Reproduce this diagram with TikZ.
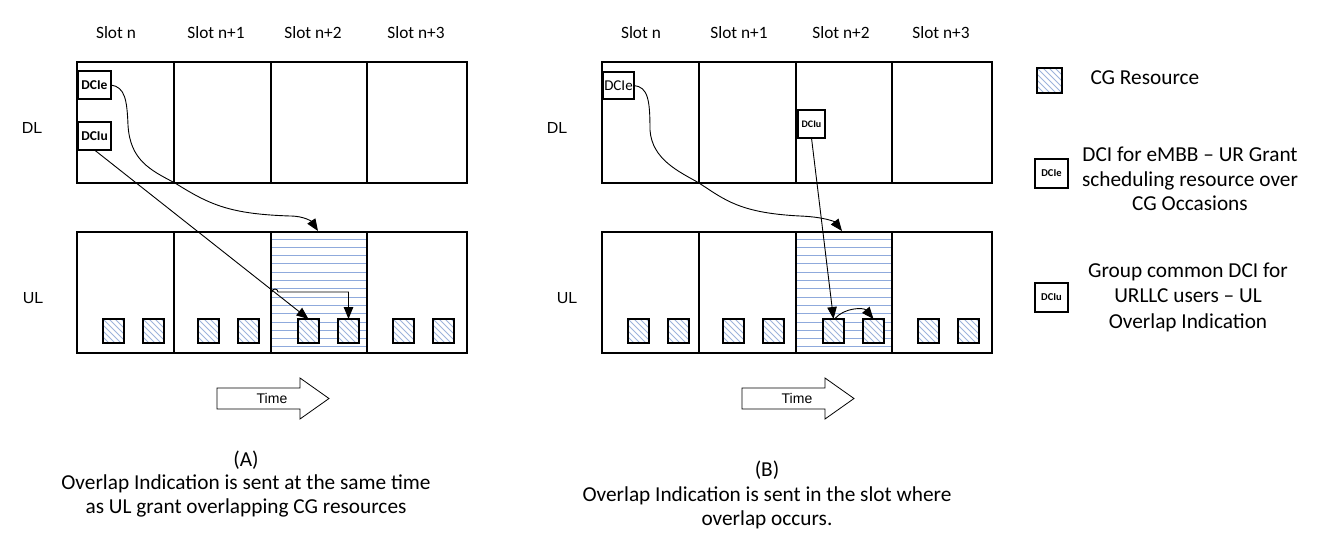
\documentclass[tikz,border=0pt]{standalone}
\usepackage{fontspec}
\setmainfont{Carlito}
\newfontfamily\arialfont{Liberation Sans}
\usetikzlibrary{arrows.meta,calc}
\definecolor{hblue}{HTML}{8FAADC}
\definecolor{cgblue}{HTML}{9DB3DB}
\tikzset{
  slotbox/.style={draw, line width=2.8pt, anchor=north west, minimum height=121pt, inner sep=0pt, outer sep=0pt},
  hatched/.style={path picture={\foreach \k in {0,...,13}{\draw[hblue,line width=0.9pt] ($(path picture bounding box.north west)+(0pt,{-7pt-\k*8.3pt})$) -- ++(100pt,0pt);}}},
  cgbox/.style={draw, line width=2.4pt, anchor=north west, minimum width=21pt, minimum height=24pt, inner sep=0pt, outer sep=0pt, fill=white,
    path picture={\foreach \i in {-30,-24,...,24}{\draw[cgblue, line width=0.9pt] ($(path picture bounding box.north west)+(\i pt,0pt)$) -- ++(32pt,-32pt);}}},
  dcibox/.style={draw, line width=2.4pt, fill=white, inner sep=0pt, outer sep=0pt, font=\bfseries\fontsize{13.5}{13.5}\selectfont},
  conn/.style={line width=0.9pt, -{Triangle[length=12pt,width=9.5pt]}},
  slotlbl/.style={font=\fontsize{17.3}{19}\selectfont},
  sidelbl/.style={font=\arialfont\fontsize{16}{18}\selectfont},
  txt/.style={font=\fontsize{21.3}{23.5}\selectfont, align=center},
  timelbl/.style={font=\arialfont\fontsize{14}{16}\selectfont},
}
\newcommand\drawpanel[2]{%
  \begin{scope}[xshift=#2]
    \node[slotbox,minimum width=97pt] (#1dl1) at (77,62) {};
    \node[slotbox,minimum width=97pt] (#1dl2) at (174,62) {};
    \node[slotbox,minimum width=96pt] (#1dl3) at (271,62) {};
    \node[slotbox,minimum width=100pt] (#1dl4) at (367,62) {};
    \node[slotbox,minimum width=97pt] (#1ul1) at (77,232) {};
    \node[slotbox,minimum width=97pt] (#1ul2) at (174,232) {};
    \node[slotbox,hatched,minimum width=96pt] (#1ul3) at (271,232) {};
    \node[slotbox,minimum width=100pt] (#1ul4) at (367,232) {};
    \foreach \x [count=\c] in {103,143,198,238,298,338,393,433}
      \node[cgbox] (#1cg\c) at (\x,319) {};
    \draw[line width=0.8pt] (217,388) -- (300,388) -- (300,378) -- (329,398.5) -- (300,419) -- (300,409) -- (217,409) -- cycle;
    \node[timelbl] (#1time) at (272,398.5) {Time};
  \end{scope}}
\begin{document}
\begin{tikzpicture}[x=1pt,y=-1pt]
\useasboundingbox[fill=white] (0,0) rectangle (1331,554);
\drawpanel{A}{0pt}
\drawpanel{B}{525pt}
% labels A
\node[slotlbl] (As1) at (116,33) {Slot n};
\node[slotlbl] (As2) at (216,33) {Slot n+1};
\node[slotlbl] (As3) at (313,33) {Slot n+2};
\node[slotlbl] (As4) at (416,33) {Slot n+3};
\node[sidelbl] (Adl) at (32,128) {DL};
\node[sidelbl] (Aul) at (33,298) {UL};
% labels B
\node[slotlbl] (Bs1) at (641,33) {Slot n};
\node[slotlbl] (Bs2) at (739,33) {Slot n+1};
\node[slotlbl] (Bs3) at (841,33) {Slot n+2};
\node[slotlbl] (Bs4) at (941,33) {Slot n+3};
\node[sidelbl] (Bdl) at (557,128) {DL};
\node[sidelbl] (Bul) at (567,298) {UL};
% DCI boxes
\node[dcibox, minimum width=33pt, minimum height=28pt] (ADCIe) at (94.5,85) {DCIe};
\node[dcibox, minimum width=33pt, minimum height=28pt] (ADCIu) at (94.5,136) {DCIu};
\node[dcibox, minimum width=31pt, minimum height=27pt, font=\fontsize{15}{15}\selectfont] (BDCIe) at (618.5,85.5) {DCIe};
\node[dcibox, minimum width=27pt, minimum height=28pt, font=\bfseries\fontsize{10}{10}\selectfont] (BDCIu) at (811.5,124) {DCIu};
% arrows A
\coordinate (Aeend) at (318,231);
\draw[conn] (ADCIe.east) .. controls (125,87) and (127,100) .. (128,125) .. controls (130,160) and (150,170) .. (175,183) .. controls (210,205) and (230,214) .. (290,216) .. controls (305,216) and (312,222) .. (Aeend);
\draw[conn] (ADCIu.south) -- (Acg5.north);
\coordinate (Ahop) at (271,292);
\draw[conn] (Ahop) -- ++(1pt,0pt) arc[start angle=180,end angle=0,radius=3pt] -- (Ahop -| Acg6.north) -- (Acg6.north);
% arrows B
\coordinate (Beend) at (842,231);
\draw[conn] (BDCIe.east) .. controls (648,87) and (650,100) .. (650,130) .. controls (652,160) and (680,172) .. (699,183) .. controls (725,200) and (740,213) .. (800,216) .. controls (825,217) and (835,222) .. (Beend);
\draw[conn] (BDCIu.south) -- (Bcg5.north);
\draw[conn] ([xshift=1pt]Bcg5.north) to[bend left=50] (Bcg6.north);
% captions
\node[txt] (capA) at (246,484) {(A)\\Overlap Indication is sent at the same time\\as UL grant overlapping CG resources};
\node[txt, font=\fontsize{21.3}{24.5}\selectfont] (capB) at (767,495) {(B)\\Overlap Indication is sent in the slot where\\overlap occurs.};
% legend
\node[cgbox, minimum width=25pt, minimum height=25pt] (Lcg) at (1037,68) {};
\node[txt, anchor=west] (Lcgt) at (1087,78) {CG Resource};
\node[dcibox, minimum width=33pt, minimum height=29pt, font=\bfseries\fontsize{10.5}{10.5}\selectfont] (LDCIe) at (1051.5,173.5) {DCIe};
\node[txt, font=\fontsize{21.3}{24.5}\selectfont] (LDCIet) at (1190,179) {DCI for eMBB – UR Grant\\scheduling resource over\\CG Occasions};
\node[dcibox, minimum width=33pt, minimum height=29pt, font=\bfseries\fontsize{10.5}{10.5}\selectfont] (LDCIu) at (1051.5,297.5) {DCIu};
\node[txt, font=\fontsize{21.3}{25.5}\selectfont] (LDCIut) at (1188,297) {Group common DCI for\\URLLC users – UL\\Overlap Indication};
\end{tikzpicture}
\end{document}
